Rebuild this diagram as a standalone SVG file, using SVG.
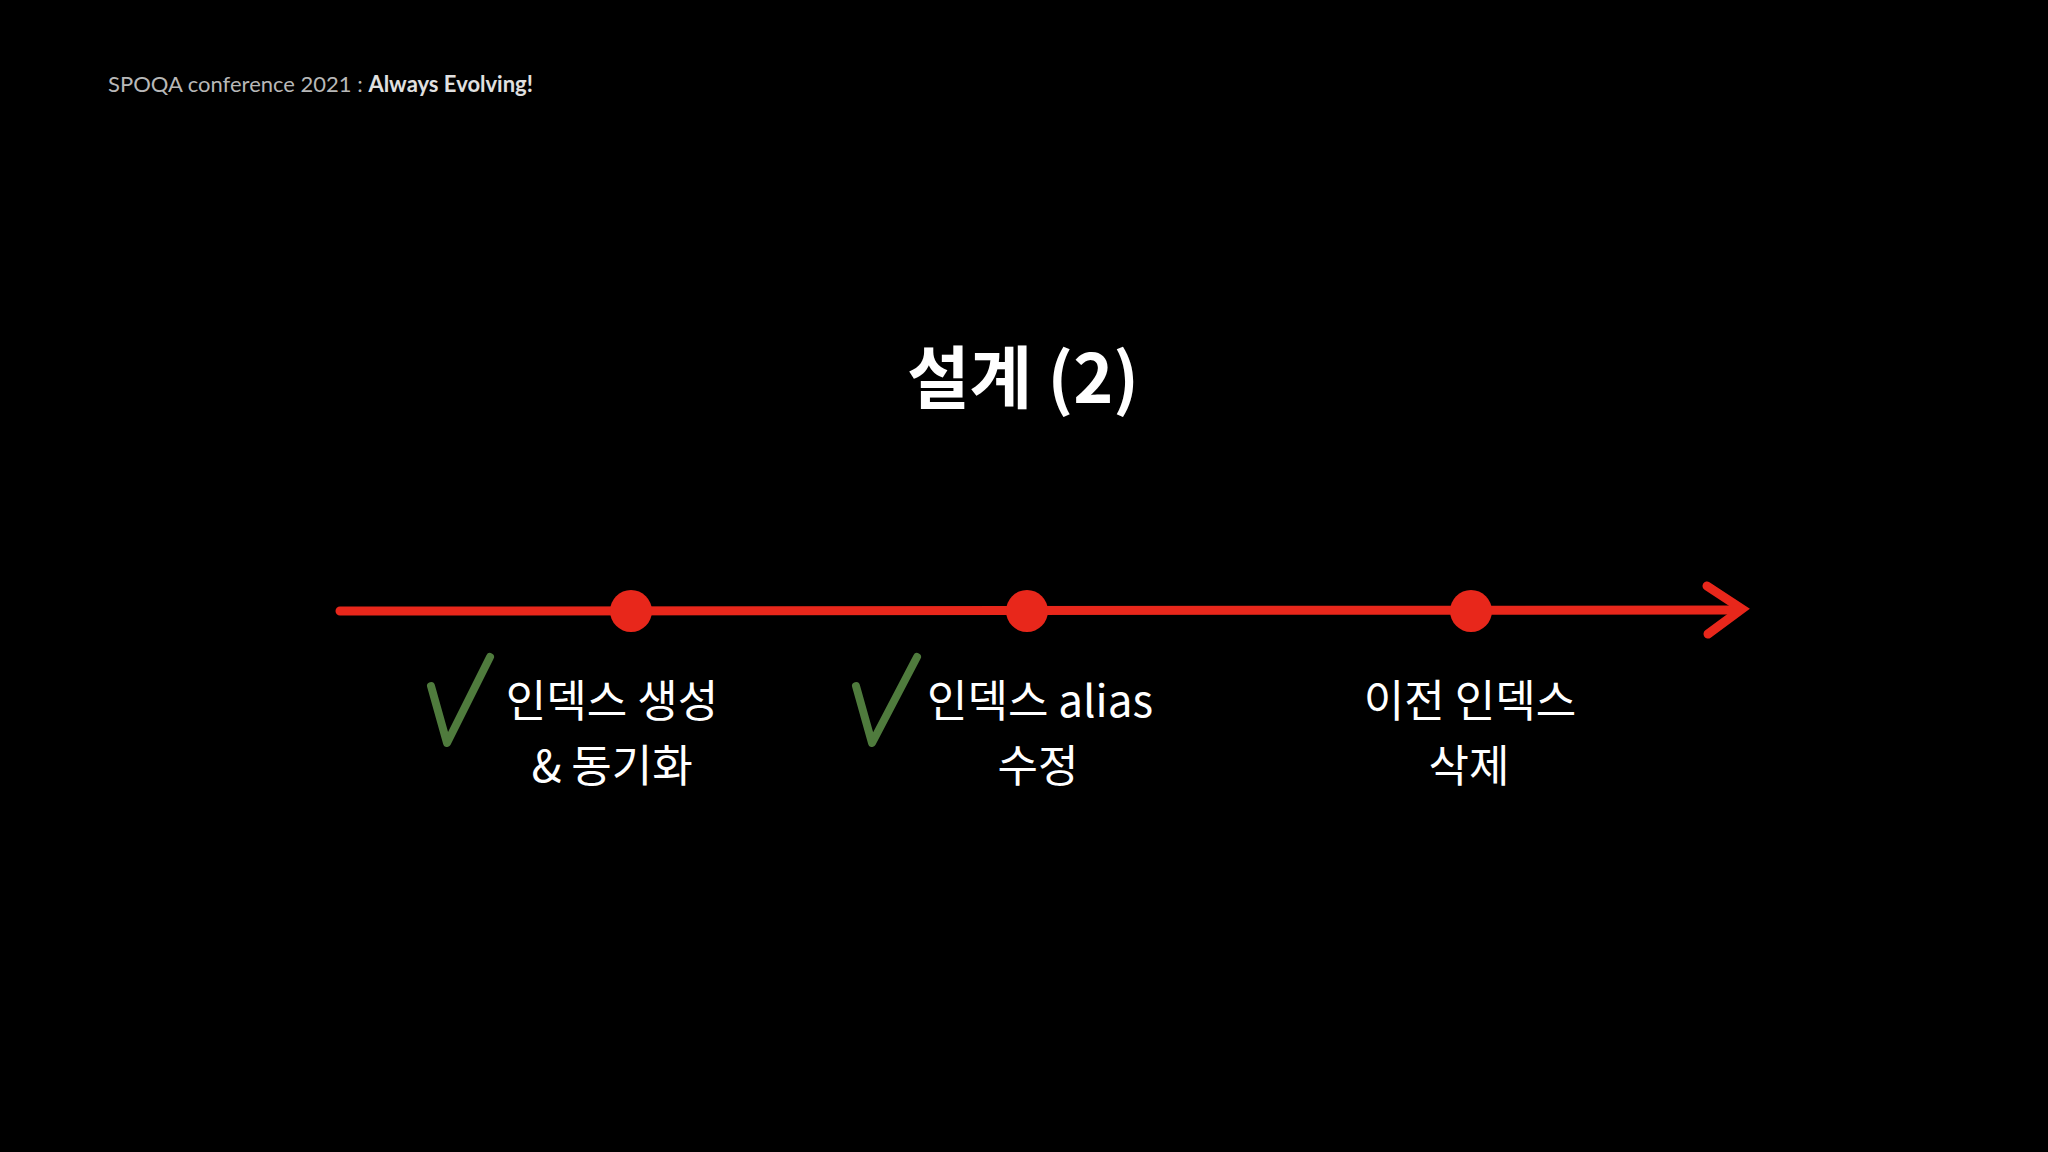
<svg xmlns="http://www.w3.org/2000/svg" width="2048" height="1152" viewBox="0 0 2048 1152">
<style>
.hdr{font-family:"Lato","Noto Sans",sans-serif;font-size:22px;fill:#b8b8b8}
.hdrb{font-weight:bold;fill:#e0e0e0}
.title{font-family:"Noto Sans CJK KR","Noto Sans",sans-serif;font-size:68px;font-weight:bold;fill:#ffffff;text-anchor:middle}
.lbl{font-family:"Noto Sans CJK KR","Noto Sans",sans-serif;font-size:44px;fill:#ffffff;text-anchor:middle}
.chalk{stroke:#e8271b;stroke-width:9;stroke-linecap:round;fill:none}
.dot{fill:#e8271b}
.check{stroke:#4f7b3d;stroke-width:8;stroke-linecap:round;stroke-linejoin:round;fill:none}
</style>
<rect width="2048" height="1152" fill="#000000"/>
<g id="header"><text class="hdr" x="108" y="92">SPOQA conference 2021 : <tspan class="hdrb">Always Evolving!</tspan></text></g>
<g id="title"><text class="title" x="1023" y="403">설계 (2)</text></g>
<g id="connectors">
<path class="chalk" d="M340,611 L1738,610"/>
<path class="chalk" d="M1707,586 L1742,609 L1708,634"/>
</g>
<g id="node1">
<circle class="dot" cx="631" cy="611" r="21"/>
<path class="check" d="M431,686 L447,743 L490,657"/>
<text class="lbl" x="612" y="717">인덱스 생성</text>
<text class="lbl" x="612" y="782">&amp; 동기화</text>
</g>
<g id="node2">
<circle class="dot" cx="1027" cy="611" r="21"/>
<path class="check" d="M856,686 L872,743 L917,657"/>
<text class="lbl" x="1040" y="717">인덱스 alias</text>
<text class="lbl" x="1038" y="782">수정</text>
</g>
<g id="node3">
<circle class="dot" cx="1471" cy="611" r="21"/>
<text class="lbl" x="1470" y="717">이전 인덱스</text>
<text class="lbl" x="1469" y="782">삭제</text>
</g>
</svg>
